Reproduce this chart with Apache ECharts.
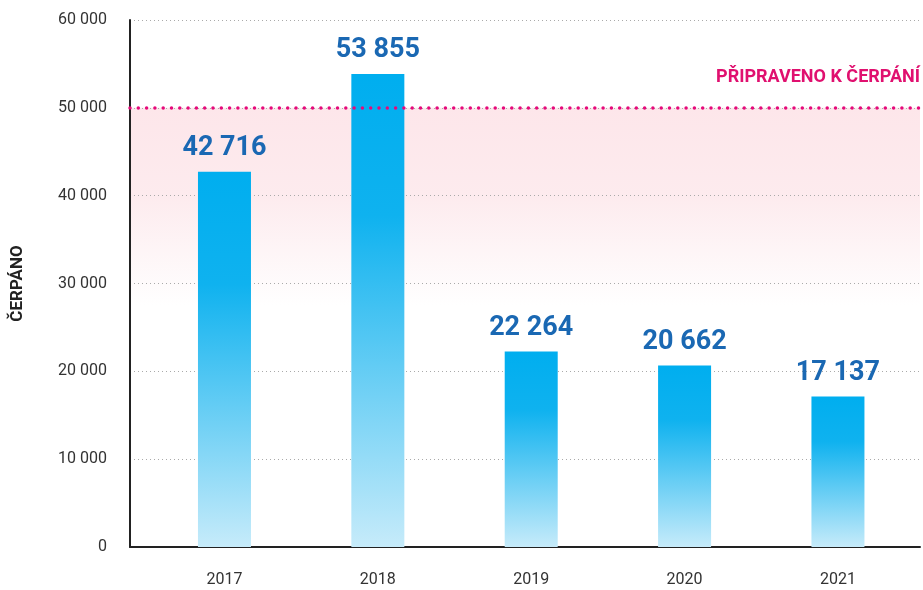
<!DOCTYPE html>
<html>
<head>
<meta charset="utf-8">
<script src="https://cdn.jsdelivr.net/npm/echarts@6/dist/echarts.min.js"></script>
<style>
  html, body { margin: 0; padding: 0; background: #fff; }
  #chart { width: 923px; height: 590px; }
</style>
</head>
<body>
<div id="chart"></div>
<script>
var years = [2017, 2018, 2019, 2020, 2021];
var cerpano = [42716, 53855, 22264, 20662, 17137];
var pripraveno = 50000;

function fmt(v) {
    return String(v).replace(/\B(?=(\d{3})+(?!\d))/g, ' ');
}

var mChart = echarts.init(document.getElementById('chart'));

var option = {
    animation: false,
    textStyle: { fontFamily: 'Roboto' },
    grid: { left: 130, right: 3, top: 20, bottom: 43 },
    xAxis: {
        type: 'value',
        min: 2016.384,
        max: 2021.535,
        splitLine: { show: false },
        axisLine: { show: true, onZero: false, lineStyle: { color: '#222', width: 2 } },
        axisTick: { show: false },
        axisLabel: {
            customValues: years,
            color: '#333',
            fontSize: 16,
            margin: 25,
            formatter: function (v) { return String(v); }
        }
    },
    yAxis: {
        type: 'value',
        min: 0,
        max: 60000,
        interval: 10000,
        name: 'ČERPÁNO',
        nameLocation: 'middle',
        nameGap: 104,
        nameRotate: 90,
        nameTextStyle: { fontWeight: 'bold', fontSize: 17, color: '#222' },
        axisLine: { show: true, lineStyle: { color: '#222', width: 2 } },
        axisTick: { show: false },
        axisLabel: {
            color: '#333',
            fontSize: 16,
            margin: 23,
            formatter: function (v) { return fmt(v); }
        },
        splitLine: { lineStyle: { color: '#aaa', type: [1, 3], width: 1 } }
    },
    series: [{
        type: 'bar',
        barWidth: 53,
        data: years.map(function (y, i) { return [y, cerpano[i]]; }),
        itemStyle: {
            color: new echarts.graphic.LinearGradient(0, 0, 0, 1, [
                { offset: 0, color: '#00aeef' },
                { offset: 0.3, color: '#0fb2ef' },
                { offset: 1, color: '#c6ebfa' }
            ])
        },
        label: {
            show: true,
            position: 'top',
            distance: 10,
            color: '#1a68b3',
            fontSize: 27,
            fontWeight: 'bold',
            formatter: function (p) { return fmt(p.value[1]); }
        },
        markArea: {
            // pink band, kept under the axis lines and grid
            z: -1,
            silent: true,
            itemStyle: {
                color: new echarts.graphic.LinearGradient(0, 0, 0, 1, [
                    { offset: 0, color: '#fde6ea' },
                    { offset: 0.2, color: '#fdebee' },
                    { offset: 0.45, color: '#ffffff' },
                    { offset: 1, color: '#ffffff' }
                ])
            },
            data: [[{ yAxis: pripraveno }, { yAxis: 0 }]]
        },
        markLine: {
            silent: true,
            symbol: 'none',
            lineStyle: { color: '#e6097a', type: [0, 8.3], width: 3.5, cap: 'round' },
            label: {
                position: 'insideEndTop',
                formatter: 'PŘIPRAVENO K ČERPÁNÍ',
                color: '#e0106f',
                fontWeight: 'bold',
                fontSize: 18,
                distance: [0, 21]
            },
            data: [{ yAxis: pripraveno }]
        },
        z: 3
    }]
};

mChart.setOption(option);
</script>
</body>
</html>
